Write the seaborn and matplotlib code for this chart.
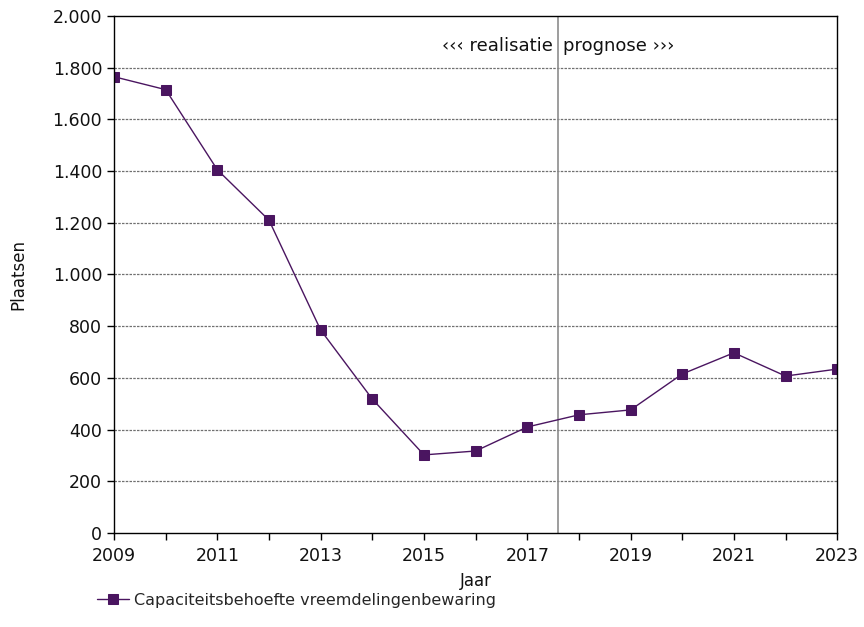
import matplotlib
matplotlib.use("Agg")
import matplotlib.pyplot as plt
from matplotlib.ticker import FixedLocator, MultipleLocator, FuncFormatter
import pandas as pd
import seaborn as sns

# data
jaren = [2009, 2010, 2011, 2012, 2013, 2014, 2015, 2016, 2017, 2018, 2019, 2020, 2021, 2022, 2023]
plaatsen = [1765, 1715, 1405, 1210, 785, 518, 302, 317, 410, 457, 476, 615, 697, 607, 634]
tick_jaren = [2009, 2011, 2013, 2015, 2017, 2019, 2021, 2023]
serie_naam = "Capaciteitsbehoefte vreemdelingenbewaring"
grens_jaar = 2017.6

kleur = "#4a1560"

sns.set_theme(style="white")
plt.rcParams['font.family'] = ['DejaVu Sans']

df = pd.DataFrame({'Jaar': jaren, 'Plaatsen': plaatsen})

fig = plt.figure(figsize=(8.64, 6.27), dpi=100)
ax = fig.add_axes([0.132, 0.150, 0.837, 0.8245])

sns.lineplot(data=df, x='Jaar', y='Plaatsen', ax=ax, color=kleur, linewidth=1.0,
             marker='s', markersize=6.5, markeredgecolor=kleur, label=serie_naam)

ax.set_xlim(2009, 2023)
ax.set_ylim(0, 2000)
ax.xaxis.set_major_locator(FixedLocator(tick_jaren))
ax.xaxis.set_minor_locator(MultipleLocator(1))
ax.yaxis.set_major_locator(MultipleLocator(200))
ax.yaxis.set_major_formatter(FuncFormatter(lambda v, p: f"{int(v):,}".replace(",", ".")))

for y in range(200, 2000, 200):
    ax.axhline(y, color='#707070', linestyle=(0, (2, 1)), linewidth=0.9, zorder=0)

ax.axvline(grens_jaar, color='#8c8c8c', linewidth=1.2, zorder=1)
ax.text(grens_jaar - 0.1, 1885, "\u2039\u2039\u2039 realisatie", ha='right', va='center', fontsize=13, color='#111111')
ax.text(grens_jaar + 0.1, 1885, "prognose \u203a\u203a\u203a", ha='left', va='center', fontsize=13, color='#111111')

for s in ax.spines.values():
    s.set_color('black')
    s.set_linewidth(1.0)

ax.tick_params(axis='both', which='both', direction='out', color='black', labelsize=12.5, labelcolor='#111111')
ax.tick_params(axis='both', which='major', length=5, width=1, bottom=True, left=True)
ax.tick_params(axis='x', which='minor', length=5, width=1, bottom=True)
ax.tick_params(axis='x', pad=5)

ax.set_xlabel("Jaar", fontsize=12, color='#111111', labelpad=5)
ax.set_ylabel("Plaatsen", fontsize=12, color='#111111', labelpad=18)

ax.get_legend().remove()
h, l = ax.get_legend_handles_labels()
fig.legend(h, l, loc='center left', bbox_to_anchor=(0.105, 0.043), frameon=False,
           fontsize=11.5, handlelength=2.0, handletextpad=0.3, borderaxespad=0)

fig.savefig("out.png", dpi=100)
